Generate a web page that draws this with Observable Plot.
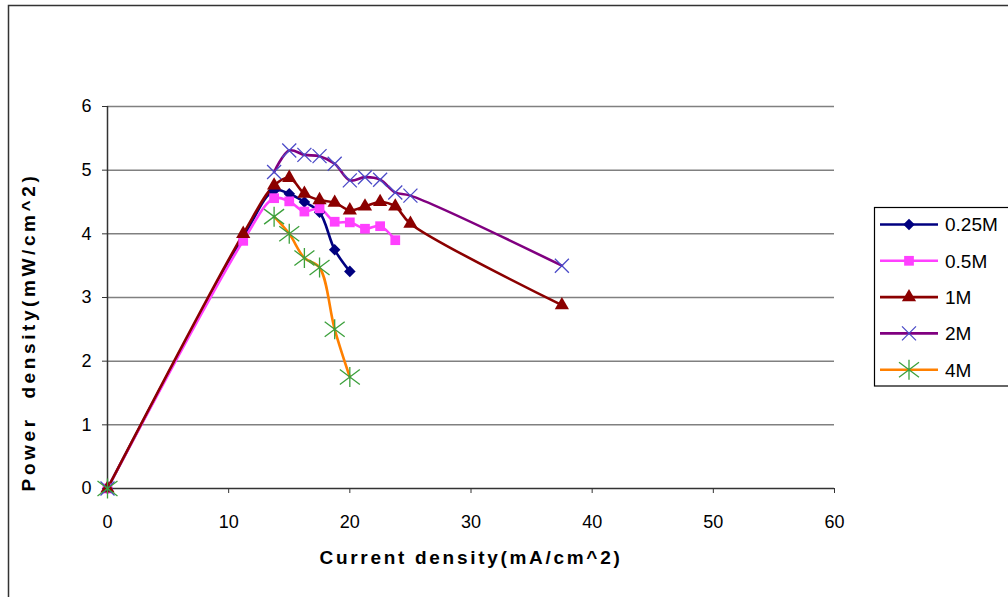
<!DOCTYPE html>
<html>
<head>
<meta charset="utf-8">
<script src="https://cdn.jsdelivr.net/npm/d3@7"></script>
<script src="https://cdn.jsdelivr.net/npm/@observablehq/plot@0.6"></script>
<style>
  html, body { margin: 0; padding: 0; background: #fff; }
  #chart { width: 1008px; height: 597px; overflow: hidden; }
  svg { display: block; }
  g[aria-label="x-axis tick label"], g[aria-label="y-axis tick label"] { font-size: 18px; fill: #000; }
</style>
</head>
<body>
<div id="chart"></div>
<script>
// ---- data ----
const seriesNames = ["0.25M", "0.5M", "1M", "2M", "4M"];

// null = blank cell in the source sheet (no line drawn across it)
const x025 = [0, 11.2, 13.75, 15, 16.25, 17.5, 18.75, 20];
const y025 = [0, 3.95, 4.68, 4.63, 4.5, 4.34, 3.75, 3.41];

const x05 = [0, 11.2, 13.75, 15, 16.25, 17.5, 18.75, 20, 21.25, 22.5, 23.75];
const y05 = [0, 3.89, 4.56, 4.51, 4.35, 4.4, 4.19, 4.18, 4.08, 4.12, 3.9];

const x1 = [0, 11.2, 13.75, 15, 16.25, 17.5, 18.75, 20, 21.25, 22.5, 23.75, 25, 37.5];
const y1 = [0, 4.0, 4.76, 4.88, 4.63, 4.53, 4.49, 4.37, 4.43, 4.5, 4.43, 4.16, 2.88];

const x2 = [0, 11.2, 13.75, 15, 16.25, 17.5, 18.75, 20, 21.25, 22.5, 23.75, 25, 37.5];
const y2 = [0, null, 4.97, 5.31, 5.24, 5.22, 5.1, 4.84, 4.89, 4.85, 4.65, 4.6, 3.5];

const x4 = [0, 11.2, 13.75, 15, 16.25, 17.5, 18.75, 20];
const y4 = [0, null, 4.27, 4.0, 3.62, 3.47, 2.5, 1.75];

const xTicks = [0, 10, 20, 30, 40, 50, 60];
const yTicks = [0, 1, 2, 3, 4, 5, 6];

const xTitle = "Current density(mA/cm^2)";
const yTitle = "Power  density(mW/cm^2)";

// ---- styling per series ----
const asteriskSymbol = {
  draw(ctx, size) {
    const r = Math.sqrt(size / Math.PI);
    ctx.moveTo(0, -r); ctx.lineTo(0, r);
    const dx = r, dy = r * 0.75;
    ctx.moveTo(-dx, -dy); ctx.lineTo(dx, dy);
    ctx.moveTo(-dx, dy); ctx.lineTo(dx, -dy);
  }
};
const timesSymbol = {
  draw(ctx, size) {
    const r = Math.sqrt(size / Math.PI);
    ctx.moveTo(-r, -r); ctx.lineTo(r, r);
    ctx.moveTo(-r, r); ctx.lineTo(r, -r);
  }
};

const styles = {
  "0.25M": {line: "#000080", symbol: "diamond2", r: 5.2, fill: "#000080", stroke: "none"},
  "0.5M": {line: "#FF40FF", symbol: "square2", r: 6.2, fill: "#FF40FF", stroke: "none"},
  "1M": {line: "#8B0000", symbol: "triangle2", r: 6.8, fill: "#8B0000", stroke: "none"},
  "2M": {line: "#800080", symbol: timesSymbol, r: 7, fill: "none", stroke: "#4B4BC8"},
  "4M": {line: "#FF8000", symbol: asteriskSymbol, r: 10, fill: "none", stroke: "#3CA03C"}
};

const xs = {"0.25M": x025, "0.5M": x05, "1M": x1, "2M": x2, "4M": x4};
const ys = {"0.25M": y025, "0.5M": y05, "1M": y1, "2M": y2, "4M": y4};

const rows = {};
for (const s of seriesNames) rows[s] = xs[s].map((x, i) => ({series: s, x, y: ys[s][i] == null ? NaN : ys[s][i]}));

const marks = [
  Plot.gridY(yTicks.slice(1), {stroke: "#808080", strokeOpacity: 1, strokeWidth: 1.5}),
  Plot.ruleY([0], {stroke: "#333", strokeWidth: 1.5}),
  Plot.ruleX([0], {stroke: "#333", strokeWidth: 1.5}),
  Plot.axisX({ticks: xTicks, tickSize: 5, tickPadding: 22, tickFormat: "d", stroke: "#333"}),
  Plot.axisY({ticks: yTicks, tickSize: 5, tickPadding: 11, tickFormat: "d", stroke: "#333"})
];
for (const s of seriesNames) {
  const st = styles[s];
  marks.push(Plot.line(rows[s], {x: "x", y: "y", stroke: st.line, strokeWidth: 2.6, curve: "catmull-rom"}));
}
for (const s of seriesNames) {
  const st = styles[s];
  marks.push(Plot.dot(rows[s], {x: "x", y: "y", symbol: () => st.symbol, r: st.r, fill: st.fill, stroke: st.stroke, strokeWidth: 1.3}));
}

const chart = Plot.plot({
  width: 1008,
  height: 597,
  marginLeft: 107,
  marginRight: 174,
  marginTop: 106,
  marginBottom: 109,
  style: {fontFamily: "'Liberation Sans', Arial, sans-serif", fontSize: "18px", color: "#000", background: "#fff"},
  x: {domain: [0, 60], label: null},
  y: {domain: [0, 6], label: null},
  symbol: {type: "identity"},
  marks
});

document.getElementById("chart").appendChild(chart);

// ---- decorations: border, axis titles, legend ----
const svg = d3.select(chart);
svg.insert("rect", ":first-child")
  .attr("x", 8.5).attr("y", 5.5).attr("width", 1010).attr("height", 600)
  .attr("fill", "#fff").attr("stroke", "#333").attr("stroke-width", 1.5);

svg.append("text")
  .attr("x", 471).attr("y", 564)
  .attr("text-anchor", "middle")
  .attr("font-family", "'Liberation Sans', Arial, sans-serif")
  .attr("font-weight", "bold").attr("font-size", 19)
  .attr("letter-spacing", "2.7px")
  .attr("fill", "#000")
  .text(xTitle);

svg.append("text")
  .attr("transform", "translate(35,332) rotate(-90)")
  .attr("text-anchor", "middle")
  .attr("font-family", "'Liberation Sans', Arial, sans-serif")
  .attr("font-weight", "bold").attr("font-size", 19)
  .attr("letter-spacing", "3.6px")
  .attr("fill", "#000")
  .text(yTitle);

const lg = svg.append("g").attr("text-anchor", "start");
lg.append("rect").attr("x", 874.5).attr("y", 207.5).attr("width", 140).attr("height", 178.5)
  .attr("fill", "#fff").attr("stroke", "#000").attr("stroke-width", 1.2);
seriesNames.forEach((s, i) => {
  const st = styles[s];
  const yy = 224.5 + i * 36.3;
  lg.append("line").attr("x1", 880).attr("x2", 938).attr("y1", yy).attr("y2", yy)
    .attr("stroke", st.line).attr("stroke-width", 2.6);
  const sym = typeof st.symbol === "string" ? d3.symbol(
      {diamond2: d3.symbolDiamond2, square2: d3.symbolSquare2, triangle2: d3.symbolTriangle2}[st.symbol],
      Math.PI * st.r * st.r)() : d3.symbol(st.symbol, Math.PI * st.r * st.r)();
  lg.append("path").attr("d", sym).attr("transform", `translate(909,${yy})`)
    .attr("fill", st.fill).attr("stroke", st.stroke).attr("stroke-width", 1.3);
  lg.append("text").attr("x", 945).attr("y", yy).attr("dy", "0.36em")
    .attr("text-anchor", "start")
    .attr("font-family", "'Liberation Sans', Arial, sans-serif").attr("font-size", 19)
    .attr("fill", "#000").text(s);
});
</script>
</body>
</html>
